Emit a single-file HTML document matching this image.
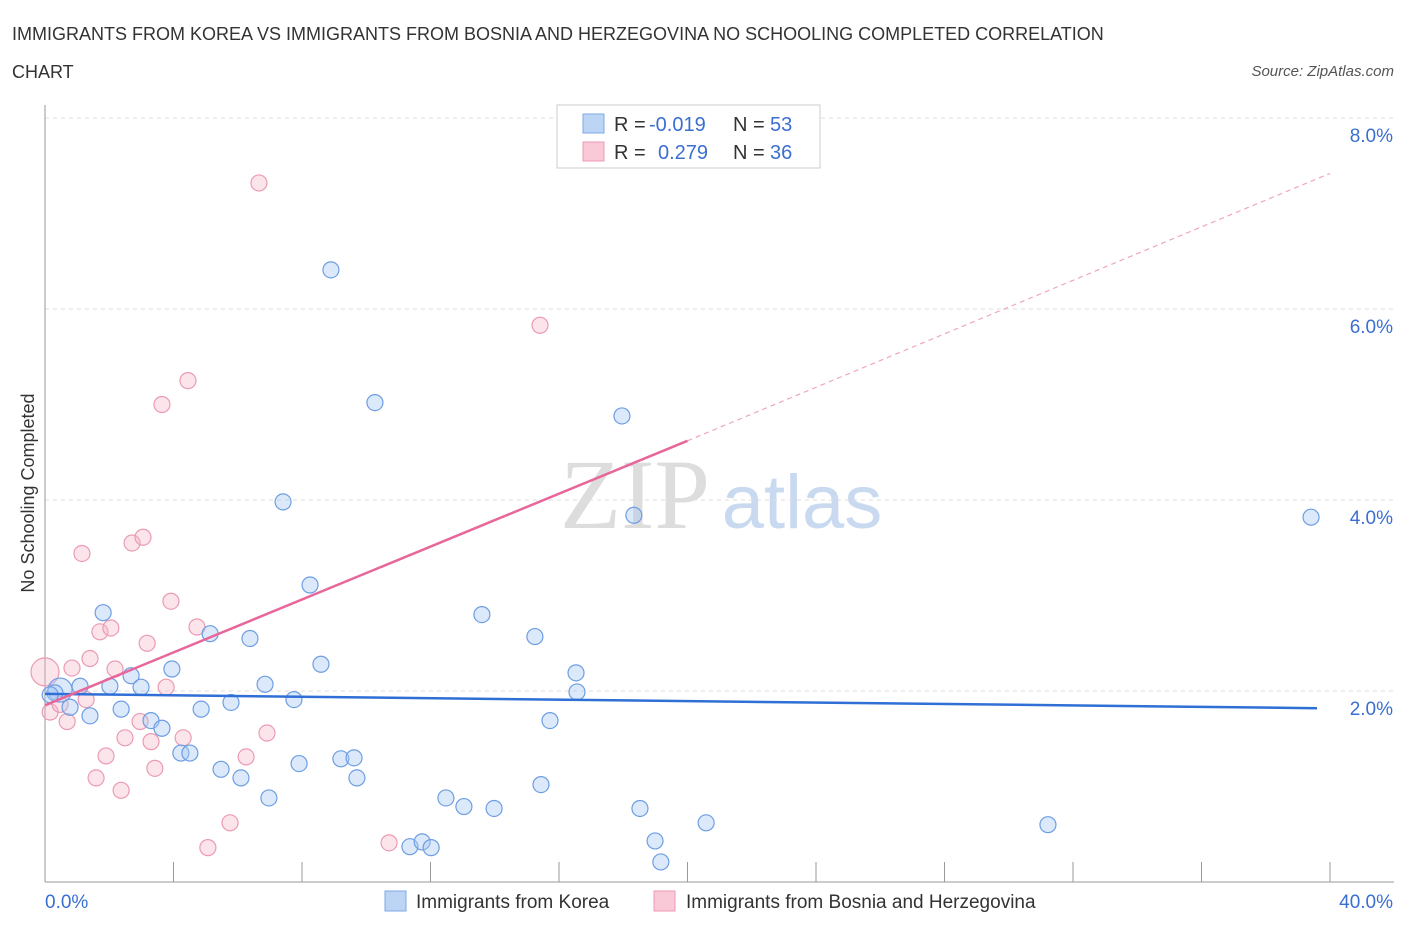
<!DOCTYPE html>
<html><head><meta charset="utf-8"><style>
body{margin:0;background:#fff;font-family:"Liberation Sans",sans-serif;}
svg{display:block}
</style></head><body>
<svg width="1406" height="930" xmlns="http://www.w3.org/2000/svg">
<text x="12" y="40" font-size="18" fill="#333">IMMIGRANTS FROM KOREA VS IMMIGRANTS FROM BOSNIA AND HERZEGOVINA NO SCHOOLING COMPLETED CORRELATION</text>
<text x="12" y="78" font-size="18" fill="#333">CHART</text>
<text x="1394" y="76" font-size="15" fill="#555" font-style="italic" text-anchor="end">Source: ZipAtlas.com</text>
<text x="635" y="528" font-size="100" fill="#ddd" font-family="Liberation Serif" text-anchor="middle">ZIP</text>
<text x="802" y="528" font-size="76" fill="#c9daf0" text-anchor="middle">atlas</text>
<text transform="translate(34,493) rotate(-90)" font-size="18" fill="#333" text-anchor="middle">No Schooling Completed</text>
<g id="grid"></g>
<g id="marks"></g>
<rect x="557" y="105" width="263" height="63" fill="#fff" stroke="#ccc"/>
<rect x="583" y="114" width="21" height="19" fill="#bcd5f5" stroke="#7ea9e6"/>
<rect x="583" y="142" width="21" height="19" fill="#f9c9d7" stroke="#ec9ab2"/>
<g font-size="20">
<text x="614" y="131" fill="#333">R = </text><text x="649" y="131" fill="#3a6fd1">-0.019</text>
<text x="733" y="131" fill="#333">N = </text><text x="770" y="131" fill="#3a6fd1">53</text>
<text x="614" y="159" fill="#333">R = </text><text x="658" y="159" fill="#3a6fd1">0.279</text>
<text x="733" y="159" fill="#333">N = </text><text x="770" y="159" fill="#3a6fd1">36</text>
</g>
<rect x="385" y="891" width="21" height="20" fill="#bcd5f5" stroke="#7ea9e6"/>
<text x="416" y="908" font-size="19" fill="#333">Immigrants from Korea</text>
<rect x="654" y="891" width="21" height="20" fill="#f9c9d7" stroke="#ec9ab2"/>
<text x="686" y="908" font-size="19" fill="#333">Immigrants from Bosnia and Herzegovina</text>
</svg>
<script>
const yTicks=[2,4,6,8];
const yTickLabels=["2.0%","4.0%","6.0%","8.0%"];
const xLabels=["0.0%","40.0%"];
const koreaX=[0.47,0.31,0.16,0.78,1.09,1.4,1.81,2.02,2.37,2.68,2.99,3.3,3.64,3.95,4.23,4.51,4.86,5.14,5.48,5.79,6.1,6.38,6.85,6.97,7.41,7.75,7.91,8.25,8.59,8.9,9.21,9.62,9.71,10.27,11.36,11.74,12.02,12.48,13.04,13.6,13.98,15.25,15.44,15.72,16.53,16.56,17.96,18.33,18.52,18.99,19.17,20.58,31.22,39.41];
const koreaY=[2.01,1.98,1.96,1.83,2.05,1.74,2.82,2.05,1.81,2.16,2.04,1.69,1.61,2.23,1.35,1.35,1.81,2.6,1.18,1.88,1.09,2.55,2.07,0.88,3.98,1.91,1.24,3.11,2.28,6.41,1.29,1.3,1.09,5.02,0.37,0.42,0.36,0.88,0.79,2.8,0.77,2.57,1.02,1.69,2.19,1.99,4.88,3.84,0.77,0.43,0.21,0.62,0.6,3.82];
const bosniaX=[0,0.16,0.47,0.69,0.84,1.15,1.28,1.4,1.59,1.71,1.9,2.05,2.18,2.37,2.49,2.71,2.96,3.05,3.18,3.3,3.42,3.64,3.77,3.92,4.3,4.45,4.73,5.07,5.76,6.26,6.66,6.91,10.71,15.41];
const bosniaY=[2.2,1.78,1.86,1.68,2.24,3.44,1.91,2.34,1.09,2.62,1.32,2.66,2.23,0.96,1.51,3.55,1.68,3.61,2.5,1.47,1.19,5.0,2.04,2.94,1.51,5.25,2.67,0.36,0.62,1.31,7.32,1.56,0.41,5.83];
const koreaTrend=[[0,1.97],[40,1.82]];
const bosniaTrend=[[0,1.85],[20,4.62],[40,7.42]];
const X=v=>45+v*32.125, Y=v=>882-v*95.5;
const NS="http://www.w3.org/2000/svg";
const grid=document.getElementById('grid'), marks=document.getElementById('marks');
function mk(tag,attrs,parent){const e=document.createElementNS(NS,tag);for(const k in attrs)e.setAttribute(k,attrs[k]);parent.appendChild(e);return e;}
yTicks.forEach((t,i)=>{
 const l=mk('line',{x1:45,x2:1394,y1:Y(t),y2:Y(t),stroke:'#ddd','stroke-dasharray':'4,4'},grid);
 
 
 const tx=mk('text',{x:1393,y:Y(t)+24,'font-size':19,fill:'#3a6fd1','text-anchor':'end'},grid);
 tx.textContent=yTickLabels[i];
 
 
});
let ax=mk('line',{x1:45,x2:45,y1:105,y2:882,stroke:'#999'},grid);


ax=mk('line',{x1:45,x2:1394,y1:882,y2:882,stroke:'#999'},grid);


for(let i=0;i<=10;i++){const t=mk('line',{x1:X(i*4),x2:X(i*4),y1:862,y2:882,stroke:'#999'},grid);
 
 }
[[0,'start',45],[40,'end',1393]].forEach((a,i)=>{const t=mk('text',{x:a[2],y:908,'font-size':19,fill:'#3a6fd1','text-anchor':a[1]},grid);t.textContent=xLabels[i];
 
 });
bosniaX.forEach((x,i)=>{const c=mk('circle',{cx:X(x),cy:Y(bosniaY[i]),r:i==0?14:8,fill:'rgba(247,178,199,0.35)',stroke:'#eb9bb4','stroke-width':1.2},marks);
 
 });
koreaX.forEach((x,i)=>{const c=mk('circle',{cx:X(x),cy:Y(koreaY[i]),r:i==0?12:8,fill:'rgba(168,200,243,0.4)',stroke:'#6d9ee3','stroke-width':1.2},marks);
 
 });
let l=mk('line',{x1:X(koreaTrend[0][0]),y1:Y(koreaTrend[0][1]),x2:X(koreaTrend[1][0])-13,y2:Y(koreaTrend[1][1]),stroke:'#2f6fd6','stroke-width':2.5},marks);


l=mk('line',{x1:X(bosniaTrend[0][0]),y1:Y(bosniaTrend[0][1]),x2:X(bosniaTrend[1][0]),y2:Y(bosniaTrend[1][1]),stroke:'#e8679a','stroke-width':2.5},marks);


l=mk('line',{x1:X(bosniaTrend[1][0]),y1:Y(bosniaTrend[1][1]),x2:X(bosniaTrend[2][0]),y2:Y(bosniaTrend[2][1]),stroke:'#eea5bf','stroke-width':1.2,'stroke-dasharray':'5,4'},marks);


</script>
</body></html>
